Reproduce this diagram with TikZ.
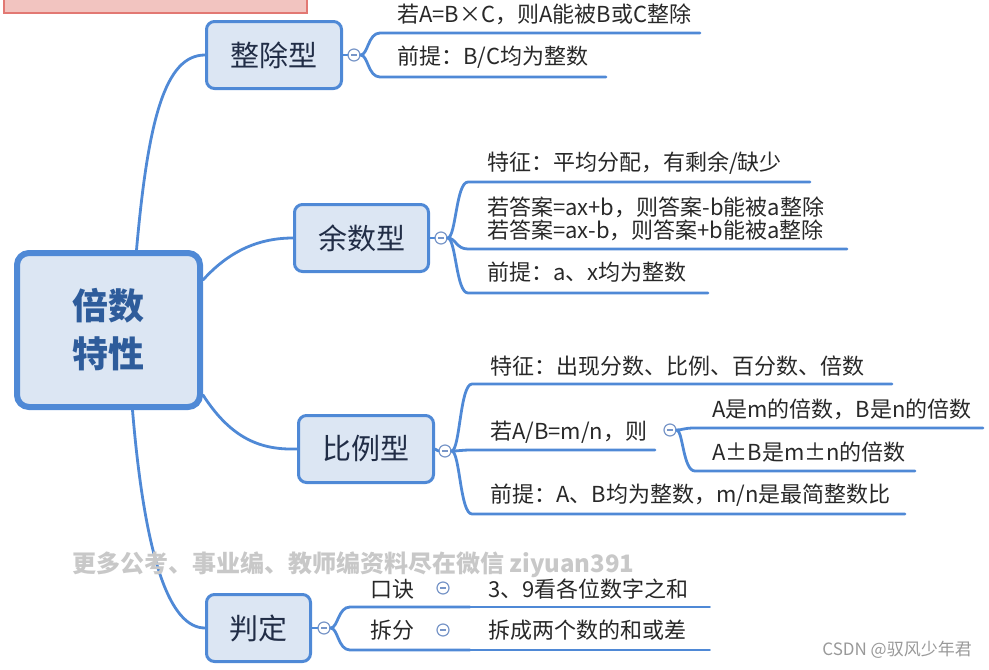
\documentclass[tikz,border=0pt]{standalone}
\usepackage{fontspec}
\setmainfont{Noto Sans CJK SC}
\usepackage{xcolor}
\usepackage{tikz}
\usetikzlibrary{positioning}

\definecolor{mapblue}{RGB}{79,137,214}
\definecolor{foldblue}{RGB}{120,150,200}
\definecolor{boxfill}{RGB}{220,230,243}
\definecolor{titletext}{RGB}{33,45,70}
\definecolor{roottext}{RGB}{46,92,155}
\definecolor{leaftext}{RGB}{40,40,40}
\definecolor{pinkfill}{RGB}{242,196,192}
\definecolor{pinkline}{RGB}{226,120,115}
\definecolor{wmgray}{RGB}{200,200,200}

\begin{document}
\begin{tikzpicture}[x=1pt,y=-1pt]
        % Define styles
        \tikzset{
            rootbox/.style={rectangle, rounded corners=12pt, draw=mapblue, line width=6pt, fill=boxfill, minimum width=183pt, minimum height=154pt, align=center, text=roottext, font=\fontsize{36}{48}\selectfont\bfseries},
            topicbox/.style={rectangle, rounded corners=8pt, draw=mapblue, line width=3pt, fill=boxfill, minimum height=67pt, text=titletext, font=\fontsize{29}{32}\selectfont},
            leaf/.style={anchor=west, inner sep=0pt, text=leaftext, font=\fontsize{22}{23}\selectfont, align=left},
            fold/.style={circle, draw=foldblue, line width=1.2pt, fill=white, minimum size=12pt, inner sep=0pt,
                path picture={\draw[foldblue, line width=1.2pt] ([xshift=-3pt]path picture bounding box.center) -- ([xshift=3pt]path picture bounding box.center);}},
            branch/.style={draw=mapblue, line width=2.8pt, line cap=round}
        }
        \useasboundingbox (0,0) rectangle (989,670);

        % Top banner
        \fill[pinkfill, draw=pinkline, line width=1.5pt] (4,-5) rectangle (307,13);

        % Nodes
        \node[rootbox] (root) at (108.5,330) {倍数\\特性};
        \node[topicbox, minimum width=135pt] (zhengchu) at (274,55) {整除型};
        \node[topicbox, minimum width=134pt] (yushu) at (361.5,238) {余数型};
        \node[topicbox, minimum width=135pt] (bili) at (366,449) {比例型};
        \node[topicbox, minimum width=104pt] (panding) at (258.5,628) {判定};

        \node[fold] (fold_zc) at (354,55) {};
        \node[fold] (fold_ys) at (441,238) {};
        \node[fold] (fold_bl) at (445,451) {};
        \node[fold] (fold_pd) at (324,628) {};

        % Leaves
        \node[leaf] (zc_leaf_1) at (397,14) {若A=B×C，则A能被B或C整除};
        \node[leaf] (zc_leaf_2) at (397,57) {前提：B/C均为整数};
        \coordinate (zc_end_1) at (700,33);
        \coordinate (zc_end_2) at (606,77);

        \node[leaf] (ys_leaf_1) at (487,163) {特征：平均分配，有剩余/缺少};
        \node[leaf] (ys_leaf_2) at (487,218.5) {若答案=ax+b，则答案-b能被a整除\\若答案=ax-b，则答案+b能被a整除};
        \node[leaf] (ys_leaf_3) at (487,272) {前提：a、x均为整数};
        \coordinate (ys_end_1) at (810,182);
        \coordinate (ys_end_2) at (847,249);
        \coordinate (ys_end_3) at (708,293);

        \node[leaf] (bl_leaf_1) at (490,366) {特征：出现分数、比例、百分数、倍数};
        \node[leaf] (bl_leaf_2) at (490,432) {若A/B=m/n，则};
        \node[fold] (fold_bl_sub) at (670,430) {};
        \node[leaf] (bl_sub_1) at (712,409) {A是m的倍数，B是n的倍数};
        \node[leaf] (bl_sub_2) at (712,452) {A±B是m±n的倍数};
        \node[leaf] (bl_leaf_3) at (490,495) {前提：A、B均为整数，m/n是最简整数比};
        \coordinate (bl_end_1) at (892,384);
        \coordinate (bl_end_2) at (655,450);
        \coordinate (bl_end_3) at (905,514);
        \coordinate (bl_sub_end_1) at (983,428);
        \coordinate (bl_sub_end_2) at (915,471);

        \node[leaf] (pd_leaf_1) at (370,589) {口诀};
        \node[fold] (fold_pd_1) at (443,588) {};
        \node[leaf] (pd_sub_1) at (488,589) {3、9看各位数字之和};
        \node[leaf] (pd_leaf_2) at (370,630) {拆分};
        \node[fold] (fold_pd_2) at (443,630) {};
        \node[leaf] (pd_sub_2) at (488,630) {拆成两个数的和或差};
        \coordinate (pd_mid_1) at (470,607);
        \coordinate (pd_mid_2) at (470,650);
        \coordinate (pd_end_1) at (710,607);
        \coordinate (pd_end_2) at (710,650);

        % Root connectors
        \draw[branch] ([xshift=28pt]root.north) .. controls (148,120) and (165,55) .. (zhengchu.west);
        \draw[branch] ([yshift=50pt]root.east) .. controls (230,250) and (260,238) .. (yushu.west);
        \draw[branch] ([yshift=-65pt]root.east) .. controls (232,440) and (262,450) .. (bili.west);
        \draw[branch] ([xshift=24pt]root.south) .. controls (145,560) and (170,628) .. (panding.west);

        % Topic to fold
        \draw[branch] (zhengchu.east) -- (fold_zc.west);
        \draw[branch] (yushu.east) -- (fold_ys.west);
        \draw[branch] (bili.east) -- (fold_bl.west);
        \draw[branch] (panding.east) -- (fold_pd.west);

        % Brackets and underlines
        \draw[branch] (fold_zc.east) .. controls (368,55) and (368,33) .. (380,33) -- (zc_end_1);
        \draw[branch] (fold_zc.east) .. controls (368,55) and (368,77) .. (380,77) -- (zc_end_2);

        \draw[branch] (fold_ys.east) .. controls (456,238) and (456,182) .. (468,182) -- (ys_end_1);
        \draw[branch] (fold_ys.east) .. controls (456,238) and (456,249) .. (468,249) -- (ys_end_2);
        \draw[branch] (fold_ys.east) .. controls (456,238) and (456,293) .. (468,293) -- (ys_end_3);

        \draw[branch] (fold_bl.east) .. controls (460,451) and (460,384) .. (472,384) -- (bl_end_1);
        \draw[branch] (fold_bl.east) .. controls (460,451) and (460,450) .. (472,450) -- (bl_end_2);
        \draw[branch] (fold_bl.east) .. controls (460,451) and (460,514) .. (472,514) -- (bl_end_3);
        \draw[branch] (fold_bl_sub.east) .. controls (683,430) and (683,428) .. (695,428) -- (bl_sub_end_1);
        \draw[branch] (fold_bl_sub.east) .. controls (683,430) and (683,471) .. (695,471) -- (bl_sub_end_2);

        \draw[branch] (fold_pd.east) .. controls (338,628) and (338,607) .. (350,607) -- (pd_mid_1);
        \draw[branch] (fold_pd.east) .. controls (338,628) and (338,650) .. (350,650) -- (pd_mid_2);
        \draw[branch, line width=1.8pt] (pd_mid_1) -- (pd_end_1);
        \draw[branch, line width=1.8pt] (pd_mid_2) -- (pd_end_2);

        % Watermarks
        \node[anchor=west, inner sep=0pt, text=wmgray, font=\fontsize{24}{24}\selectfont\bfseries] (watermark) at (72,565) {更多公考、事业编、教师编资料尽在微信 ziyuan391};
        \node[anchor=east, inner sep=0pt, text=gray!80, font=\fontsize{17}{17}\selectfont] (csdn_mark) at (972,650) {CSDN @驭风少年君};
    \end{tikzpicture}
\end{document}
